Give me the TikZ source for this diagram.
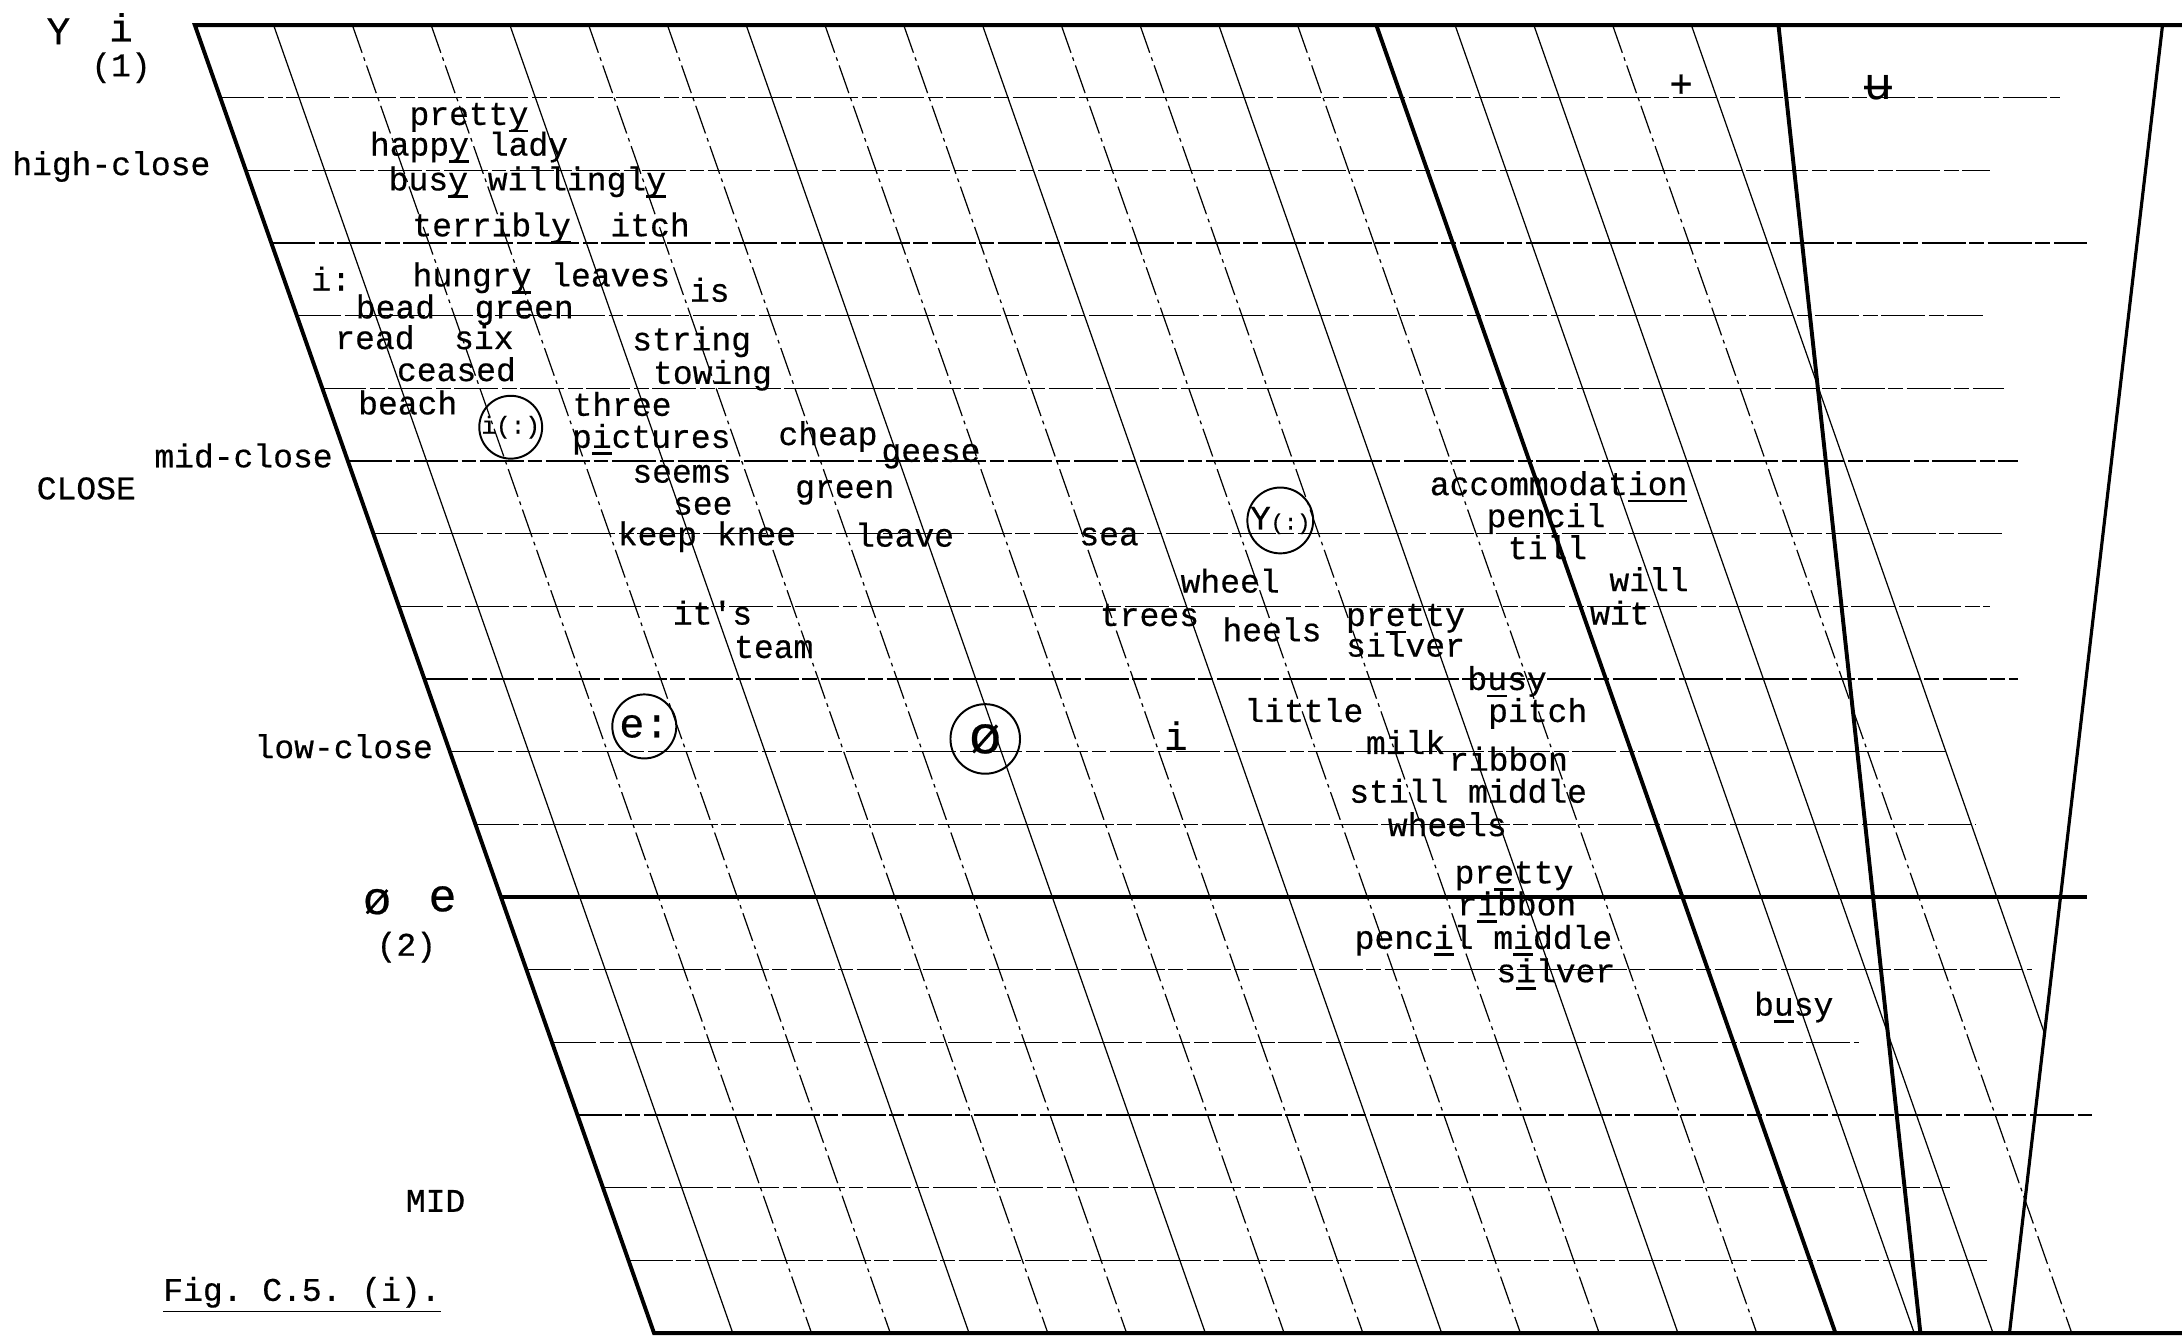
\documentclass[tikz,border=0pt]{standalone}
\usepackage{fontspec}
\setmonofont{Liberation Mono}[FakeBold=0.5]
\newfontfamily\ipafont{DejaVu Sans}
\usetikzlibrary{positioning}
% underline one typed letter
\newcommand{\ul}[1]{\rlap{\rule[-3pt]{0.6em}{1.1pt}}#1}

\begin{document}
\begin{tikzpicture}[x=0.02cm, y=-0.02cm,
  wd/.style={font=\ttfamily\fontsize{13.5}{16}\selectfont, anchor=mid, inner sep=0pt, yshift=-0.08cm},
  hand/.style={font=\ttfamily\fontsize{16}{18}\selectfont, anchor=mid, inner sep=0pt, yshift=-0.08cm},
  ring/.style={draw, circle, line width=0.8pt, inner sep=0pt},
  hl/.style={line width=0.6pt, dash pattern=on 18pt off 1.5pt on 6pt off 1.5pt},
  sl/.style={line width=0.5pt},
  sld/.style={line width=0.5pt, dash pattern=on 12pt off 2pt on 1.5pt off 2pt},
  heavy/.style={line width=1.6pt}]
\useasboundingbox (0,0) rectangle (1568,964);
%----------------- grid -----------------
% horizontal rows
\foreach \k/\xr in {1/1480,2/1430,3/1500,4/1425,5/1440,6/1450,7/1440,8/1430,9/1450,10/1400,11/1420,13/1460,14/1336,15/1504,16/1401,17/1428}{
  \pgfmathsetmacro\yy{18+52.22*\k}
  \pgfmathsetmacro\xl{140+0.3511*(\yy-18)}
  \draw[hl] (\xl,\yy) -- (\xr,\yy);
}
% slanted columns
\foreach \k in {1,4,7,10,13,16,17}{
  \pgfmathsetmacro\xt{140+56.6*\k}
  \draw[sl] (\xt,18) -- (\xt+330,958);
}
\foreach \k in {2,3,5,6,8,9,11,12,14,18}{
  \pgfmathsetmacro\xt{140+56.6*\k}
  \draw[sld] (\xt,18) -- (\xt+330,958);
}
\draw[sl] (1215.4,18) -- (1469,742);
% frame
\draw[heavy] (1568,18) -- (140,18) -- (470,958) -- (1568,958);
\draw[heavy] (989,18) -- (1319,958);
\draw[heavy] (1278,18) -- (1380,958);
\draw[line width=1.3pt] (1554,18) -- (1444,958);
\draw[heavy] (359.7,644.6) -- (1500,644.6);
%----------------- left margin -----------------
\node[hand] (yy) at (42,24) {Y};
\node[hand] (ii) at (87,22) {i};
\node[wd] (one) at (87,47) {(1)};
\node[wd] (hc) at (80,118) {high-close};
\node[wd] (mc) at (175,328) {mid-close};
\node[wd] (cl) at (62,351) {CLOSE};
\node[wd] (lc) at (247,537) {low-close};
\node[hand, font=\ttfamily\fontsize{19}{20}\selectfont] (oe) at (271,649) {ø};
\node[hand, font=\ttfamily\fontsize{19}{20}\selectfont] (ee) at (318,647) {e};
\node[wd] (two) at (292,679) {(2)};
\node[wd] (mid) at (313,863) {MID};
\node[wd] (fig) at (217,927) {\underline{Fig. C.5. (i).}};
%----------------- circled vowels -----------------
\node[ring, minimum size=0.86cm, font=\ttfamily\fontsize{10}{11}\selectfont] (ic) at (367,307) {i(:)};
\node[ring, minimum size=0.92cm, font=\ttfamily\fontsize{17}{18}\selectfont] (ec) at (463,522) {e:};
\node[ring, minimum size=1.0cm, font=\ttfamily\fontsize{22}{22}\selectfont] (oc) at (708,531) {ø};
\node[ring, minimum size=0.92cm] (yc) at (920,374) {\ttfamily{\fontsize{14}{14}\selectfont Y}{\fontsize{9}{10}\selectfont(:)}};
\node[hand] (iw) at (845,531) {i};
\node[wd] (ib) at (238,201) {i:};
\node[hand] (plus) at (1208,62) {+};
\node[hand, font=\ipafont\fontsize{18}{18}\selectfont] (ubar) at (1350,64) {ʉ};
%----------------- words -----------------
\node[wd] (w1) at (337,82) {prett\ul{y}};
\node[wd] (w2) at (337,104) {happ\ul{y} lady};
\node[wd] (w3) at (379,129) {bus\ul{y} willingl\ul{y}};
\node[wd] (w4) at (396,162) {terribl\ul{y}~~itch};
\node[wd] (w5) at (389,198) {hungr\ul{y} leaves};
\node[wd] (w6) at (510,209) {is};
\node[wd] (w7) at (334,221) {bead~~green};
\node[wd] (w8) at (305,243) {read~~six};
\node[wd] (w9) at (497,244) {string};
\node[wd] (w10) at (328,266) {ceased};
\node[wd] (w11) at (512,268) {towing};
\node[wd] (w12) at (293,290) {beach};
\node[wd] (w13) at (447,291) {three};
\node[wd] (w14) at (468,314) {p\ul{i}ctures};
\node[wd] (w15) at (595,312) {cheap};
\node[wd] (w16) at (669,324) {geese};
\node[wd] (w17) at (490,339) {seems};
\node[wd] (w18) at (607,350) {green};
\node[wd] (w19) at (505,362) {see};
\node[wd] (w20) at (508,384) {keep knee};
\node[wd] (w21) at (650,385) {leave};
\node[wd] (w22) at (797,384) {sea};
\node[wd] (w23) at (884,418) {wheel};
\node[wd] (w24) at (826,442) {trees};
\node[wd] (w25) at (914,453) {heels};
\node[wd] (w26) at (1010,442) {pr\ul{e}tty};
\node[wd] (w27) at (1010,464) {silver};
\node[wd] (w28) at (1120,348) {accommodat\ul{i}\ul{o}\ul{n}};
\node[wd] (w29) at (1111,371) {pencil};
\node[wd] (w30) at (1112,394) {till};
\node[wd] (w31) at (1185,417) {will};
\node[wd] (w32) at (1164,441) {wit};
\node[wd] (w33) at (512,441) {it's};
\node[wd] (w34) at (556,465) {team};
\node[wd] (w35) at (1083,488) {b\ul{u}sy};
\node[wd] (w36) at (1105,511) {pitch};
\node[wd] (w37) at (937,511) {little};
\node[wd] (w38) at (1010,534) {milk};
\node[wd] (w39) at (1084,546) {ribbon};
\node[wd] (w40) at (1055,569) {still middle};
\node[wd] (w41) at (1040,593) {wheels};
\node[wd] (w42) at (1088,627) {pr\ul{e}tty};
\node[wd] (w43) at (1090,650) {r\ul{i}bbon};
\node[wd] (w44) at (1066,674) {penc\ul{i}l m\ul{i}ddle};
\node[wd] (w45) at (1118,698) {s\ul{i}lver};
\node[wd] (w46) at (1289,722) {b\ul{u}sy};
\end{tikzpicture}
\end{document}
